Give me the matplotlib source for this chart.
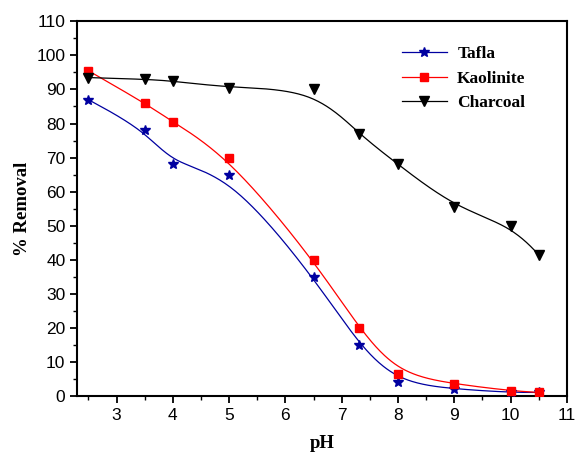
import numpy as np
import matplotlib
matplotlib.use('Agg')
import matplotlib.pyplot as plt
from matplotlib.ticker import MultipleLocator

# data
ph = [2.5, 3.5, 4.0, 5.0, 6.5, 7.3, 8.0, 9.0, 10.0, 10.5]
tafla = [87, 78, 68, 65, 35, 15, 4, 2, 1, 1]
kaolinite = [95.5, 86, 80.5, 70, 40, 20, 6.5, 3.5, 1.5, 1]
charcoal = [93.5, 93, 92.5, 90.5, 90, 77, 68, 55.5, 50, 41.5]


def bspline(xs, ys, nper=40):
    # clamped uniform cubic B-spline using the data as control points
    px = np.concatenate([[xs[0]] * 2, xs, [xs[-1]] * 2]).astype(float)
    py = np.concatenate([[ys[0]] * 2, ys, [ys[-1]] * 2]).astype(float)
    t = np.linspace(0, 1, nper)
    b0 = (1 - t) ** 3 / 6
    b1 = (3 * t ** 3 - 6 * t ** 2 + 4) / 6
    b2 = (-3 * t ** 3 + 3 * t ** 2 + 3 * t + 1) / 6
    b3 = t ** 3 / 6
    ox, oy = [], []
    for i in range(len(px) - 3):
        ox.append(b0 * px[i] + b1 * px[i + 1] + b2 * px[i + 2] + b3 * px[i + 3])
        oy.append(b0 * py[i] + b1 * py[i + 1] + b2 * py[i + 2] + b3 * py[i + 3])
    return np.concatenate(ox), np.concatenate(oy)


fig = plt.figure(figsize=(5.76, 4.55), dpi=100)
ax = fig.add_axes([0.134, 0.130, 0.850, 0.823])

series = [
    ('Tafla', tafla, '#0000A0', '*', 7.5),
    ('Kaolinite', kaolinite, '#FF0000', 's', 5.5),
    ('Charcoal', charcoal, '#000000', 'v', 7.5),
]
for name, vals, col, mk, ms in series:
    sx, sy = bspline(ph, vals)
    ax.plot(sx, sy, color=col, linewidth=0.9, zorder=2)
    ax.plot(ph, vals, linestyle='none', marker=mk, markersize=ms,
            color=col, markeredgecolor=col, zorder=3)
    ax.plot([], [], color=col, linewidth=0.9, marker=mk, markersize=ms,
            label=name)

ax.set_xlim(2.3, 11)
ax.set_ylim(0, 110)
ax.xaxis.set_major_locator(MultipleLocator(1))
ax.xaxis.set_minor_locator(MultipleLocator(0.5))
ax.yaxis.set_major_locator(MultipleLocator(10))
ax.yaxis.set_minor_locator(MultipleLocator(5))
ax.set_xticks(np.arange(3, 12, 1))
ax.tick_params(which='major', direction='out', length=5, width=1.3,
               labelsize=12.5, top=False, right=False)
ax.tick_params(which='minor', direction='out', length=3, width=1.0,
               top=False, right=False)
for lab in ax.get_xticklabels() + ax.get_yticklabels():
    lab.set_fontfamily('Liberation Sans')
for sp in ax.spines.values():
    sp.set_linewidth(1.5)

ax.set_xlabel('pH', fontsize=13.5, fontweight='bold', family='Liberation Serif',
              labelpad=9)
ax.set_ylabel('% Removal', fontsize=13.5, fontweight='bold',
              family='Liberation Serif', labelpad=4)

ax.legend(loc='upper right', bbox_to_anchor=(0.948, 0.977), frameon=False,
          handlelength=2.6, handletextpad=0.6, labelspacing=0.5,
          prop={'family': 'Liberation Serif', 'weight': 'bold', 'size': 12.5})

fig.savefig('out.png', dpi=100)
